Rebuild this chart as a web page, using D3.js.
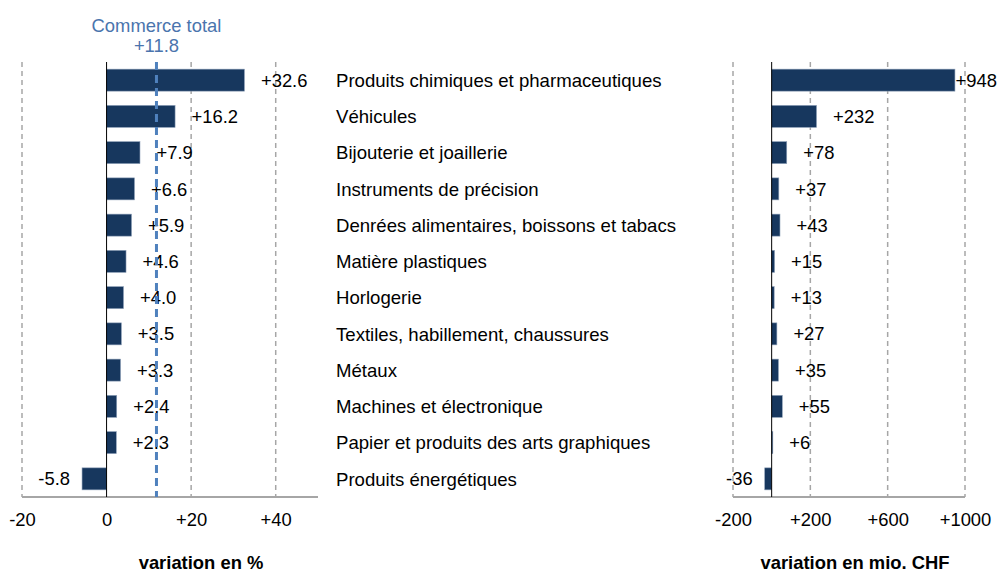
<!DOCTYPE html>
<html>
<head>
<meta charset="utf-8">
<script src="https://cdn.jsdelivr.net/npm/d3@7"></script>
<style>
  body { margin: 0; background: #fff; }
  svg { font-family: "Liberation Sans", Arial, sans-serif; }
</style>
</head>
<body>
<svg id="chart" width="999" height="572"></svg>
<script>
const categories = [
    'Produits chimiques et pharmaceutiques',
    'Véhicules',
    'Bijouterie et joaillerie',
    'Instruments de précision',
    'Denrées alimentaires, boissons et tabacs',
    'Matière plastiques',
    'Horlogerie',
    'Textiles, habillement, chaussures',
    'Métaux',
    'Machines et électronique',
    'Papier et produits des arts graphiques',
    'Produits énergétiques'
];
const pctValues = [32.6, 16.2, 7.9, 6.6, 5.9, 4.6, 4.0, 3.5, 3.3, 2.4, 2.3, -5.8];
const chfValues = [948, 232, 78, 37, 43, 15, 13, 27, 35, 55, 6, -36];
const totalPct = 11.8;
const pctTicks = [-20, 0, 20, 40];
const chfTicks = [-200, 200, 600, 1000];

const plotTop = 62, plotBottom = 497;
const navy = '#17375E';
const fontSize = 18.4;

const svg = d3.select('#chart');

const y = d3.scaleBand()
    .domain(categories)
    .range([plotTop, plotBottom])
    .paddingInner(0.393)
    .paddingOuter(0.197);

const signed = (v, digits) => (v > 0 ? '+' : '') + v.toFixed(digits);

const drawPanel = (values, domain, range, ticks, tickLabels, digits, title) => {
    const x = d3.scaleLinear().domain(domain).range(range);
    const g = svg.append('g');

    // dashed gridlines
    g.selectAll('line.grid')
        .data(ticks.filter(t => t !== 0))
        .enter().append('line')
            .attr('x1', d => x(d)).attr('x2', d => x(d))
            .attr('y1', plotTop).attr('y2', plotBottom)
            .attr('stroke', '#a6a6a6')
            .attr('stroke-width', 1.5)
            .attr('stroke-dasharray', '5,4');

    // bottom axis
    const axis = g.append('g')
        .attr('transform', 'translate(0,' + plotBottom + ')')
        .call(d3.axisBottom(x).tickValues(ticks).tickSize(0).tickPadding(0)
            .tickFormat((d, i) => tickLabels[i]));
    axis.select('.domain').attr('stroke', '#a6a6a6').attr('stroke-width', 2)
        .attr('d', 'M' + range[0] + ',0H' + range[1]);
    axis.selectAll('text')
        .attr('dy', null).attr('y', 29)
        .attr('font-size', fontSize).attr('fill', '#000')
        .attr('font-family', '"Liberation Sans", Arial, sans-serif');

    // bars
    g.selectAll('rect')
        .data(values)
        .enter().append('rect')
            .attr('x', d => x(Math.min(0, d)))
            .attr('y', (d, i) => y(categories[i]))
            .attr('width', d => Math.abs(x(d) - x(0)))
            .attr('height', y.bandwidth())
            .attr('fill', navy)
            .attr('stroke', '#8ea0b8')
            .attr('stroke-width', 0.6);

    // zero line
    g.append('line')
        .attr('x1', x(0)).attr('x2', x(0))
        .attr('y1', plotTop).attr('y2', plotBottom)
        .attr('stroke', '#000').attr('stroke-width', 1);

    // value labels
    g.selectAll('text.val')
        .data(values)
        .enter().append('text')
            .attr('class', 'val')
            .attr('x', d => d >= 0 ? x(d) + 16.5 : x(d) - 12)
            .attr('y', (d, i) => y(categories[i]) + y.bandwidth() / 2)
            .attr('dy', '0.36em')
            .attr('text-anchor', d => d >= 0 ? 'start' : 'end')
            .attr('font-size', fontSize)
            .text(d => signed(d, digits))
            .each(function () {
                const box = this.getBBox();
                if (box.x + box.width > 997) {
                    d3.select(this).attr('x', 997 - box.width);
                }
            });

    // axis title
    g.append('text')
        .attr('x', title.x).attr('y', 569)
        .attr('text-anchor', 'middle')
        .attr('font-size', fontSize).attr('font-weight', 'bold')
        .text(title.text);

    return x;
};

const xPct = drawPanel(pctValues, [-20, 50], [22, 318], pctTicks,
    ['-20', '0', '+20', '+40'], 1, { x: 201, text: 'variation en %' });

// total commerce reference line
svg.append('line')
    .attr('x1', xPct(totalPct)).attr('x2', xPct(totalPct))
    .attr('y1', plotTop).attr('y2', plotBottom)
    .attr('stroke', '#4f81bd').attr('stroke-width', 3)
    .attr('stroke-dasharray', '8,5');
svg.append('text')
    .attr('x', xPct(totalPct)).attr('y', 31.5)
    .attr('text-anchor', 'middle')
    .attr('font-size', fontSize).attr('fill', '#4a74ad')
    .text('Commerce total');
svg.append('text')
    .attr('x', xPct(totalPct)).attr('y', 52)
    .attr('text-anchor', 'middle')
    .attr('font-size', fontSize).attr('fill', '#4a74ad')
    .text(signed(totalPct, 1));

drawPanel(chfValues, [-200, 1000], [733, 965], chfTicks,
    ['-200', '+200', '+600', '+1000'], 0, { x: 855, text: 'variation en mio. CHF' });

// category labels between the panels
svg.selectAll('text.cat')
    .data(categories)
    .enter().append('text')
        .attr('class', 'cat')
        .attr('x', 336)
        .attr('y', d => y(d) + y.bandwidth() / 2)
        .attr('dy', '0.36em')
        .attr('font-size', 18.6)
        .text(d => d);
</script>
</body>
</html>
